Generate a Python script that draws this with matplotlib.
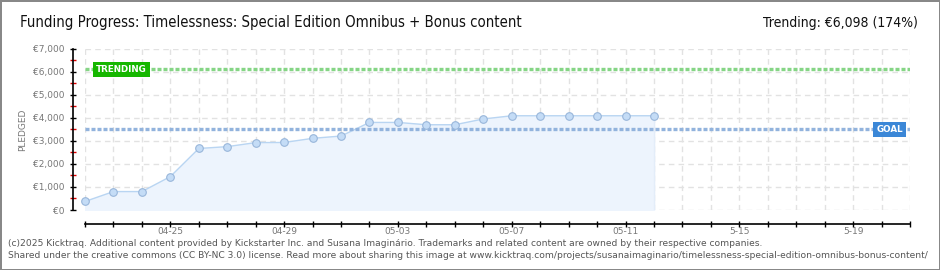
import matplotlib.pyplot as plt
import matplotlib.dates as mdates
import numpy as np
import datetime as dt

# daily pledged totals (EUR)
dates = ['2025-04-22', '2025-04-23', '2025-04-24', '2025-04-25', '2025-04-26',
         '2025-04-27', '2025-04-28', '2025-04-29', '2025-04-30', '2025-05-01',
         '2025-05-02', '2025-05-03', '2025-05-04', '2025-05-05', '2025-05-06',
         '2025-05-07', '2025-05-08', '2025-05-09', '2025-05-10', '2025-05-11',
         '2025-05-12']
pledged = [370, 800, 800, 1450, 2670, 2750, 2925, 2930, 3110, 3210,
           3800, 3800, 3700, 3700, 3950, 4090, 4090, 4090, 4090, 4090, 4090]

goal = 3500
trending = 6098
start, end = '2025-04-22', '2025-05-21'
tick_labels = {'2025-04-25': '04-25', '2025-04-29': '04-29', '2025-05-03': '05-03',
               '2025-05-07': '05-07', '2025-05-11': '05-11', '2025-05-15': '5-15',
               '2025-05-19': '5-19'}

x = [dt.datetime.strptime(d, '%Y-%m-%d') for d in dates]
x0 = dt.datetime.strptime(start, '%Y-%m-%d')
x1 = dt.datetime.strptime(end, '%Y-%m-%d')
days = [x0 + dt.timedelta(days=i) for i in range((x1 - x0).days + 1)]

fig = plt.figure(figsize=(9.4, 2.7), dpi=100)
fig.patch.set_edgecolor('#888888')
fig.patch.set_linewidth(2)
ax = fig.add_axes([85/940, 60/270, 825/940, 161.3/270])

ax.set_xlim(x0, x1)
ax.set_ylim(0, 7000)

# grid
for d in days:
    ax.axvline(d, color='#e2e2e2', lw=1, ls=(0, (4, 3)), zorder=0)
for v in range(0, 8000, 1000):
    ax.axhline(v, color='#e2e2e2', lw=1, ls=(0, (4, 3)), zorder=0)

ax.fill_between(x, pledged, 0, color='#edf4fd', zorder=1)
ax.plot([x[-1], x[-1]], [0, pledged[-1]], color='#e3edf9', lw=1, zorder=1)
ax.plot(x, pledged, color='#b9d5f2', lw=1, zorder=2)
ax.scatter(x, pledged, s=30, facecolor='#c4dcf6', edgecolor='#98b6da', lw=0.8,
           zorder=3, clip_on=False)

ax.axhline(trending, color='#85d585', lw=2.4, ls=(0, (1.2, 0.6)), zorder=2)
ax.axhline(goal, color='#92b3dd', lw=2.4, ls=(0, (1.2, 0.6)), zorder=2)

ax.text(mdates.date2num(x0) + 0.38, trending, 'TRENDING', color='white', fontsize=6.3,
        fontweight='bold', ha='left', va='center', zorder=5,
        bbox=dict(boxstyle='square,pad=0.35', fc='#16b700', ec='none'))
ax.text(mdates.date2num(x1) - 0.25, goal, 'GOAL', color='white', fontsize=6.3,
        fontweight='bold', ha='right', va='center', zorder=5,
        bbox=dict(boxstyle='square,pad=0.35', fc='#3b87d7', ec='none'))

# spines / ticks
for s in ['top', 'right']:
    ax.spines[s].set_visible(False)
ax.spines['left'].set_position(('outward', 9))
ax.spines['bottom'].set_position(('outward', 10))
ax.spines['left'].set_color('black')
ax.spines['bottom'].set_color('black')
ax.spines['left'].set_linewidth(1.2)
ax.spines['bottom'].set_linewidth(1.2)

ax.set_xticks(days)
ax.set_xticklabels([tick_labels.get(d.strftime('%Y-%m-%d'), '') for d in days])
ax.set_yticks(range(0, 8000, 1000))
ax.set_yticklabels(['€0' if v == 0 else '€{:,}'.format(v) for v in range(0, 8000, 1000)])
ax.set_yticks(np.arange(500, 7000, 1000), minor=True)
ax.tick_params(axis='both', which='major', direction='inout', length=5, width=1,
               labelsize=6.5, labelcolor='#777777', color='black')
ax.tick_params(axis='x', pad=0)
ax.tick_params(axis='y', pad=3)
ax.tick_params(axis='y', which='minor', direction='inout', length=5, width=1,
               color='#dd0000')
ax.set_ylabel('PLEDGED', fontsize=6.5, color='#777777')
ax.yaxis.set_label_coords(-58/825, 0.5)

fig.text(20/940, 1 - 23/270, 'Funding Progress: Timelessness: Special Edition Omnibus + Bonus content',
         fontsize=10.7, color='#111111', ha='left', va='center', family='DejaVu Sans',
         fontstretch='condensed')
fig.text(918/940, 1 - 23/270, 'Trending: €6,098 (174%)', fontsize=10, color='#111111',
         ha='right', va='center', family='DejaVu Sans', fontstretch='condensed')

fig.text(8/940, 1 - 243/270, '(c)2025 Kicktraq. Additional content provided by Kickstarter Inc. and Susana Imaginário. '
         'Trademarks and related content are owned by their respective companies.',
         fontsize=6.6, color='#555555', ha='left', va='center')
fig.text(8/940, 1 - 256/270, 'Shared under the creative commons (CC BY-NC 3.0) license. Read more about sharing this image at '
         'www.kicktraq.com/projects/susanaimaginario/timelessness-special-edition-omnibus-bonus-content/',
         fontsize=6.6, color='#555555', ha='left', va='center')

fig.savefig('out.png', dpi=100, edgecolor=fig.get_edgecolor())
